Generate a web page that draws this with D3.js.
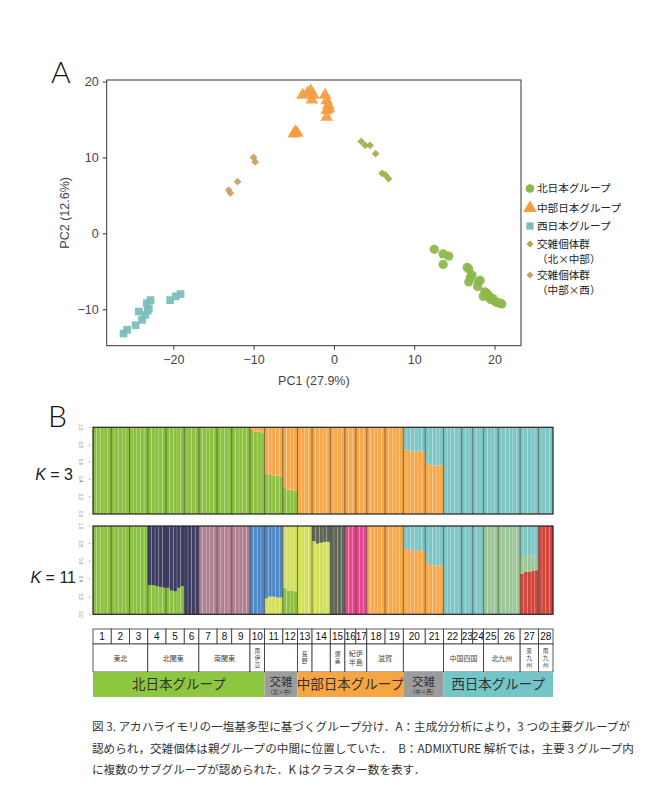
<!DOCTYPE html>
<html><head><meta charset="utf-8">
<script src="https://cdn.jsdelivr.net/npm/d3@7"></script>
<style>body{margin:0;background:#fff;} svg{display:block;}</style>
</head><body>
<svg id="chart" width="650" height="793"></svg>
<script>
// ---------------- DATA ----------------
// Panel A: PCA scores [PC1, PC2]
const northPC = [[12.5,-2.1],[13.6,-2.7],[14.3,-3.0],[13.6,-4.1],[16.8,-4.7],[16.6,-4.5],[17.0,-5.8],[16.8,-6.4],[17.2,-5.5],[18.0,-6.4],[18.2,-6.2],[17.9,-7.0],[18.8,-7.7],[19.0,-7.9],[19.2,-8.1],[19.5,-8.7],[18.6,-8.3],[19.4,-8.4],[19.8,-8.6],[20.1,-9.0],[20.3,-9.1],[20.7,-9.2],[20.9,-9.3]];
const centralPC = [[-3.9,18.2],[-3.3,18.5],[-2.9,18.8],[-2.75,17.6],[-2.55,18.2],[-1.1,18.2],[-0.9,17.5],[-0.7,16.9],[-0.9,16.2],[-0.9,15.3],[-0.6,16.4],[-4.8,13.4],[-4.55,13.2],[-5.0,13.1]];
const westPC = [[-19.7,-8.3],[-19.1,-8.0],[-20.4,-8.8],[-23.3,-9.2],[-23.05,-9.9],[-22.85,-8.8],[-24.3,-10.3],[-23.5,-10.75],[-23.9,-11.4],[-23.2,-10.2],[-24.7,-12.1],[-25.75,-12.7],[-26.2,-13.2]];
const hybNCPC = [[3.4,12.1],[3.9,11.6],[4.5,11.6],[5.2,10.5],[6.0,7.9],[6.4,7.7],[6.8,7.2]];
const hybCWPC = [[-10.0,10.0],[-9.8,9.4],[-12.0,6.8],[-13.1,5.7],[-12.9,5.3]];
const xTicksA = [-20,-10,0,10,20];
const yTicksA = [-10,0,10,20];
const legendLabels = [["北日本グループ"],["中部日本グループ"],["西日本グループ"],["交雑個体群","（北×中部）"],["交雑個体群","（中部×西）"]];

// Panel B: populations 1..28, number of individuals per population
const popIds = [1,2,3,4,5,6,7,8,9,10,11,12,13,14,15,16,17,18,19,20,21,22,23,24,25,26,27,28];
const popCounts = [5,5,5,5,5,4,5,4,5,4,5,4,4,5,4,3,3,5,5,6,5,5,3,3,4,6,5,4];
// K=3 ancestry per individual: [component, proportion] from bottom (0 north,1 central,2 west)
const k3 = [
 [[[0,1]],[[0,1]],[[0,1]],[[0,1]],[[0,1]]],
 [[[0,1]],[[0,1]],[[0,1]],[[0,1]],[[0,1]]],
 [[[0,0.98],[1,0.02]],[[0,1]],[[0,1]],[[0,1]],[[0,1]]],
 [[[0,1]],[[0,1]],[[0,1]],[[0,1]],[[0,1]]],
 [[[0,1]],[[0,1]],[[0,1]],[[0,1]],[[0,1]]],
 [[[0,1]],[[0,1]],[[0,1]],[[0,1]]],
 [[[0,1]],[[0,1]],[[0,0.98],[1,0.02]],[[0,1]],[[0,1]]],
 [[[0,1]],[[0,1]],[[0,1]],[[0,1]]],
 [[[0,1]],[[0,1]],[[0,1]],[[0,1]],[[0,1]]],
 [[[0,0.97],[1,0.03]],[[0,0.95],[1,0.05]],[[0,0.95],[1,0.05]],[[0,0.94],[1,0.06]]],
 [[[0,0.46],[1,0.54]],[[0,0.45],[1,0.55]],[[0,0.44],[1,0.56]],[[0,0.44],[1,0.56]],[[0,0.43],[1,0.57]]],
 [[[0,0.30],[1,0.70]],[[0,0.28],[1,0.72]],[[0,0.28],[1,0.72]],[[0,0.27],[1,0.73]]],
 [[[1,1]],[[1,1]],[[1,1]],[[1,1]]],
 [[[1,1]],[[1,1]],[[1,1]],[[1,1]],[[1,1]]],
 [[[1,1]],[[1,1]],[[1,1]],[[1,1]]],
 [[[1,1]],[[1,1]],[[1,1]]],
 [[[1,1]],[[1,1]],[[1,1]]],
 [[[1,1]],[[1,1]],[[1,1]],[[1,1]],[[1,1]]],
 [[[1,1]],[[1,1]],[[1,1]],[[1,1]],[[1,1]]],
 [[[1,0.74],[2,0.26]],[[1,0.73],[2,0.27]],[[1,0.73],[2,0.27]],[[1,0.72],[2,0.28]],[[1,0.73],[2,0.27]],[[1,0.72],[2,0.28]]],
 [[[1,0.58],[2,0.42]],[[1,0.57],[2,0.43]],[[1,0.56],[2,0.44]],[[1,0.56],[2,0.44]],[[1,0.57],[2,0.43]]],
 [[[2,1]],[[2,1]],[[2,1]],[[2,1]],[[2,1]]],
 [[[2,1]],[[2,1]],[[2,1]]],
 [[[2,1]],[[2,1]],[[2,1]]],
 [[[2,1]],[[2,1]],[[2,1]],[[2,1]]],
 [[[2,1]],[[2,1]],[[2,1]],[[2,1]],[[2,1]],[[2,1]]],
 [[[2,1]],[[2,1]],[[2,1]],[[2,1]],[[2,1]]],
 [[[2,1]],[[2,1]],[[2,1]],[[2,1]]]
];
// K=11 ancestry per individual (component index into k11Colors)
const k11 = [
 [[[0,1]],[[0,1]],[[0,1]],[[0,1]],[[0,1]]],
 [[[0,1]],[[0,1]],[[0,1]],[[0,1]],[[0,1]]],
 [[[0,1]],[[0,1]],[[0,1]],[[0,1]],[[0,1]]],
 [[[0,0.33],[1,0.67]],[[0,0.33],[1,0.67]],[[0,0.32],[1,0.68]],[[0,0.31],[1,0.69]],[[0,0.30],[1,0.70]]],
 [[[0,0.30],[1,0.70]],[[0,0.27],[1,0.73]],[[0,0.26],[1,0.74]],[[0,0.30],[1,0.70]],[[0,0.32],[1,0.68]]],
 [[[1,1]],[[1,1]],[[1,1]],[[1,1]]],
 [[[2,1]],[[2,1]],[[2,1]],[[2,1]],[[2,1]]],
 [[[2,1]],[[2,1]],[[2,1]],[[2,1]]],
 [[[2,1]],[[2,1]],[[2,1]],[[2,1]],[[2,1]]],
 [[[4,1]],[[4,1]],[[4,1]],[[4,1]]],
 [[[3,0.18],[4,0.82]],[[3,0.20],[4,0.80]],[[3,0.20],[4,0.80]],[[3,0.19],[4,0.81]],[[3,0.19],[4,0.81]]],
 [[[0,0.30],[3,0.70]],[[0,0.27],[3,0.73]],[[0,0.27],[3,0.73]],[[0,0.26],[3,0.74]]],
 [[[3,1]],[[3,1]],[[3,1]],[[3,1]]],
 [[[3,0.83],[5,0.17]],[[3,0.80],[5,0.20]],[[3,0.81],[5,0.19]],[[3,0.82],[5,0.18]],[[3,0.82],[5,0.18]]],
 [[[5,1]],[[5,1]],[[5,1]],[[5,1]]],
 [[[6,1]],[[6,1]],[[6,1]]],
 [[[6,1]],[[6,1]],[[6,1]]],
 [[[7,1]],[[7,1]],[[7,1]],[[7,1]],[[7,1]]],
 [[[7,1]],[[7,1]],[[7,1]],[[7,1]],[[7,1]]],
 [[[7,0.74],[10,0.26]],[[7,0.73],[10,0.27]],[[7,0.73],[10,0.27]],[[7,0.72],[10,0.28]],[[7,0.73],[10,0.27]],[[7,0.72],[10,0.28]]],
 [[[7,0.59],[10,0.41]],[[7,0.56],[10,0.44]],[[7,0.55],[10,0.45]],[[7,0.55],[10,0.45]],[[7,0.56],[10,0.44]]],
 [[[10,1]],[[10,1]],[[10,1]],[[10,1]],[[10,1]]],
 [[[10,1]],[[10,1]],[[10,1]]],
 [[[10,1]],[[10,1]],[[10,1]]],
 [[[9,1]],[[9,1]],[[9,1]],[[9,1]]],
 [[[9,1]],[[9,1]],[[9,1]],[[9,1]],[[9,1]],[[9,1]]],
 [[[8,0.46],[9,0.20],[10,0.34]],[[8,0.48],[9,0.19],[10,0.33]],[[8,0.48],[9,0.19],[10,0.33]],[[8,0.49],[9,0.18],[10,0.33]],[[8,0.50],[9,0.17],[10,0.33]]],
 [[[8,1]],[[8,1]],[[8,1]],[[8,1]]]
];
const barTicks = [0,0.2,0.4,0.6,0.8,1.0];
const regions = [
 {name:"東北",from:1,to:3},{name:"北関東",from:4,to:6},{name:"南関東",from:7,to:9},
 {name:"南伊豆",from:10,to:10},{name:"",from:11,to:12},{name:"長野",from:13,to:13},
 {name:"",from:14,to:14},{name:"渥美",from:15,to:15},{name:"紀伊|半島",from:16,to:17},
 {name:"滋賀",from:18,to:19},{name:"",from:20,to:21},{name:"中国四国",from:22,to:24},
 {name:"北九州",from:25,to:26},{name:"東九州",from:27,to:27},{name:"南九州",from:28,to:28}
];
const groups = [
 {name:"北日本グループ",sub:"",from:1,to:10,kind:"north"},
 {name:"交雑",sub:"（北×中）",from:11,to:12,kind:"hybrid"},
 {name:"中部日本グループ",sub:"",from:13,to:19,kind:"central"},
 {name:"交雑",sub:"（中×西）",from:20,to:21,kind:"hybrid"},
 {name:"西日本グループ",sub:"",from:22,to:28,kind:"west"}
];
const captionLines = [
 "図 3. アカハライモリの一塩基多型に基づくグループ分け．A：主成分分析により，3 つの主要グループが",
 "認められ，交雑個体は親グループの中間に位置していた．　B：ADMIXTURE 解析では，主要 3 グループ内",
 "に複数のサブグループが認められた．K はクラスター数を表す．"
];

// ---------------- STYLE ----------------
const JP = "'Noto Sans CJK JP','Noto Sans',sans-serif";
const LAT = "'Liberation Sans',Arial,sans-serif";
const pcaColors = ["#8cb84a","#f49c40","#79bdbd","#a9a94c","#c9a062"];
const k3Colors = ["#8bc13f","#f6a84a","#7dc5c5"];
const k11Colors = ["#8bc13f","#3b3d62","#b07f91","#d3df5a","#4d87c6","#5e6553","#e6458c","#f6a84a","#d2433a","#9dc698","#7dc5c5"];
const groupFill = {north:"#8dc63f",hybrid:"#9c9c9c",central:"#f6a541",west:"#74c5c8"};

const svg = d3.select("#chart");

// ---------------- PANEL A ----------------
const xA = d3.scaleLinear().domain([-28.3,23.3]).range([106.7,521]);
const yA = d3.scaleLinear().domain([-14.8,20.2]).range([345.7,80]);

svg.append("text").attr("x",51).attr("y",83).text("A")
  .attr("font-family","Lato,'Open Sans',sans-serif").attr("font-weight",300)
  .attr("font-size",30).attr("fill","#111");

const axX = svg.append("g").attr("transform",`translate(0,${yA.range()[0]})`)
  .call(d3.axisBottom(xA).tickValues(xTicksA).tickSize(4).tickPadding(5));
const axY = svg.append("g").attr("transform",`translate(${xA.range()[0]},0)`)
  .call(d3.axisLeft(yA).tickValues(yTicksA).tickSize(4).tickPadding(4));
[axX,axY].forEach(a=>{
  a.select(".domain").remove();
  a.selectAll("line").attr("stroke","#333");
  a.selectAll("text").attr("font-family",LAT).attr("font-size",12.5).attr("fill","#444");
});
svg.append("rect").attr("x",xA.range()[0]).attr("y",yA.range()[1])
  .attr("width",xA.range()[1]-xA.range()[0]).attr("height",yA.range()[0]-yA.range()[1])
  .attr("fill","none").attr("stroke","#333").attr("stroke-width",1);

svg.append("text").attr("x",(xA.range()[0]+xA.range()[1])/2).attr("y",385)
  .attr("text-anchor","middle").attr("font-family",LAT).attr("font-size",12.5).attr("fill","#444")
  .text("PC1 (27.9%)");
svg.append("text").attr("transform",`translate(69,${(yA.range()[0]+yA.range()[1])/2}) rotate(-90)`)
  .attr("text-anchor","middle").attr("font-family",LAT).attr("font-size",12.5).attr("fill","#444")
  .text("PC2 (12.6%)");

const symTypes = [d3.symbolCircle,d3.symbolTriangle,d3.symbolSquare,d3.symbolSquare,d3.symbolSquare];
const symRot = [0,0,0,45,45];
const symSizes = [68,70,60,30,30];
const seriesA = [northPC,centralPC,westPC,hybNCPC,hybCWPC];
const gPts = svg.append("g");
[3,4,2,0,1].forEach(si=>{
  gPts.selectAll(null).data(seriesA[si]).enter().append("path")
    .attr("d",d3.symbol().type(symTypes[si]).size(symSizes[si]))
    .attr("transform",d=>`translate(${xA(d[0])},${yA(d[1])}) rotate(${symRot[si]})`)
    .attr("fill",pcaColors[si]).attr("opacity",0.92);
});

// legend
const legY = [188.5,208,226,244,275];
const legSizes = [60,80,52,24,24];
legendLabels.forEach((lab,i)=>{
  svg.append("path").attr("d",d3.symbol().type(symTypes[i]).size(legSizes[i])())
    .attr("transform",`translate(530,${legY[i]}) rotate(${symRot[i]})`).attr("fill",pcaColors[i]);
  svg.append("text").attr("x",537).attr("y",legY[i])
    .attr("font-family",JP).attr("font-size",10.6).attr("fill","#222")
    .selectAll("tspan").data(lab).enter().append("tspan")
    .attr("x",537).attr("y",(d,j)=>legY[i]+j*15.4).attr("dy","0.36em").text(d=>d);
});

// ---------------- PANEL B ----------------
svg.append("text").attr("x",48).attr("y",427).text("B")
  .attr("font-family","Lato,'Open Sans',sans-serif").attr("font-weight",300)
  .attr("font-size",30).attr("fill","#111");

const cum = [0];
popCounts.forEach((c,i)=>cum.push(cum[i]+c));
const total = cum[cum.length-1];
const xB = d3.scaleLinear().domain([0,total]).range([93,553]);
const yK3 = d3.scaleLinear().domain([0,1]).range([514,427.3]);
const yK11 = d3.scaleLinear().domain([0,1]).range([614.3,526]);

function drawAdmix(data, yS, colors){
  const g = svg.append("g");
  const w = xB(1)-xB(0);
  data.forEach((pop,p)=>{
    pop.forEach((ind,j)=>{
      const x0 = xB(cum[p]+j);
      let acc = 0;
      ind.forEach(([c,v])=>{
        g.append("rect").attr("x",x0).attr("width",w+0.05)
          .attr("y",yS(acc+v)).attr("height",yS(acc)-yS(acc+v))
          .attr("fill",colors[c]);
        acc += v;
      });
      if(j>0){
        g.append("line").attr("x1",x0).attr("x2",x0).attr("y1",yS(1)).attr("y2",yS(0))
          .attr("stroke","#ffffff").attr("stroke-opacity",0.4).attr("stroke-width",0.6);
      }
    });
  });
  cum.slice(1,-1).forEach(c=>{
    g.append("line").attr("x1",xB(c)).attr("x2",xB(c)).attr("y1",yS(1)).attr("y2",yS(0))
      .attr("stroke","#3a3a3a").attr("stroke-width",0.8).attr("stroke-opacity",0.8);
  });
  g.append("rect").attr("x",xB.range()[0]).attr("y",yS(1))
    .attr("width",xB.range()[1]-xB.range()[0]).attr("height",yS(0)-yS(1))
    .attr("fill","none").attr("stroke","#222").attr("stroke-width",1.2);
  barTicks.forEach(t=>{
    g.append("line").attr("x1",xB.range()[0]-4).attr("x2",xB.range()[0]-2.5)
      .attr("y1",yS(t)).attr("y2",yS(t)).attr("stroke","#777").attr("stroke-width",0.6);
    g.append("text").attr("transform",`translate(${xB.range()[0]-12},${yS(t)}) rotate(90)`)
      .attr("text-anchor","middle").attr("dy","0.35em").attr("font-family",LAT)
      .attr("font-size",4.5).attr("fill","#777").text(t.toFixed(1));
  });
}
drawAdmix(k3, yK3, k3Colors);
drawAdmix(k11, yK11, k11Colors);

function kLabel(x, y, k){
  const t = svg.append("text").attr("x",x).attr("y",y).attr("text-anchor","end")
    .attr("font-family",LAT).attr("font-size",16).attr("fill","#222");
  t.append("tspan").attr("font-style","italic").text("K");
  t.append("tspan").text(" = "+k);
}
kLabel(73,480,3);
kLabel(76,583,11);

// ---------------- TABLE ----------------
const r1 = [629,644], r2 = [644,672], r3 = [672,697];
const gT = svg.append("g");
popIds.forEach((id,i)=>{
  gT.append("rect").attr("x",xB(cum[i])).attr("y",r1[0]).attr("width",xB(cum[i+1])-xB(cum[i]))
    .attr("height",r1[1]-r1[0]).attr("fill","#fff").attr("stroke","#333").attr("stroke-width",0.8);
  gT.append("text").attr("x",(xB(cum[i])+xB(cum[i+1]))/2).attr("y",(r1[0]+r1[1])/2).attr("dy","0.36em")
    .attr("text-anchor","middle").attr("font-family",LAT).attr("font-size",10).attr("fill","#111").text(id);
});
regions.forEach(r=>{
  const x0 = xB(cum[r.from-1]), x1 = xB(cum[r.to]);
  gT.append("rect").attr("x",x0).attr("y",r2[0]).attr("width",x1-x0).attr("height",r2[1]-r2[0])
    .attr("fill","#fff").attr("stroke","#333").attr("stroke-width",0.8);
  const cx = (x0+x1)/2, cy = (r2[0]+r2[1])/2;
  if(!r.name) return;
  if(r.from===r.to){
    gT.append("text").attr("x",cx).attr("y",cy)
      .attr("writing-mode","vertical-rl").attr("text-anchor","middle")
      .attr("letter-spacing",1.2)
      .attr("font-family",JP).attr("font-size",5.8).attr("fill","#444").text(r.name);
  } else {
    const lines = r.name.split("|");
    gT.append("text").attr("x",cx).attr("y",cy).attr("text-anchor","middle")
      .attr("font-family",JP).attr("font-size",7).attr("fill","#444")
      .selectAll("tspan").data(lines).enter().append("tspan")
      .attr("x",cx).attr("y",(d,k)=>cy+(k-(lines.length-1)/2)*8.5).attr("dy","0.36em").text(d=>d);
  }
});
groups.forEach(gr=>{
  const x0 = xB(cum[gr.from-1]), x1 = xB(cum[gr.to]);
  gT.append("rect").attr("x",x0).attr("y",r3[0]).attr("width",x1-x0).attr("height",r3[1]-r3[0])
    .attr("fill",groupFill[gr.kind]);
  const cx = (x0+x1)/2;
  if(gr.sub){
    const t = gT.append("text").attr("x",cx).attr("y",681.5).attr("text-anchor","middle")
      .attr("font-family",JP).attr("fill","#333");
    t.append("tspan").attr("x",cx).attr("y",681.5).attr("dy","0.36em").attr("font-size",11.5).text(gr.name);
    t.append("tspan").attr("x",cx).attr("y",692).attr("dy","0.36em").attr("font-size",5.5).text(gr.sub);
  } else {
    gT.append("text").attr("x",cx).attr("y",(r3[0]+r3[1])/2).attr("dy","0.36em").attr("text-anchor","middle")
      .attr("font-family",JP).attr("font-size",13.5).attr("fill","#333").text(gr.name);
  }
});

// ---------------- CAPTION ----------------
captionLines.forEach((ln,i)=>{
  svg.append("text").attr("x",92).attr("y",731+i*21.5)
    .attr("font-family",JP).attr("font-size",11.6).attr("fill","#333").text(ln);
});
</script>
</body></html>
